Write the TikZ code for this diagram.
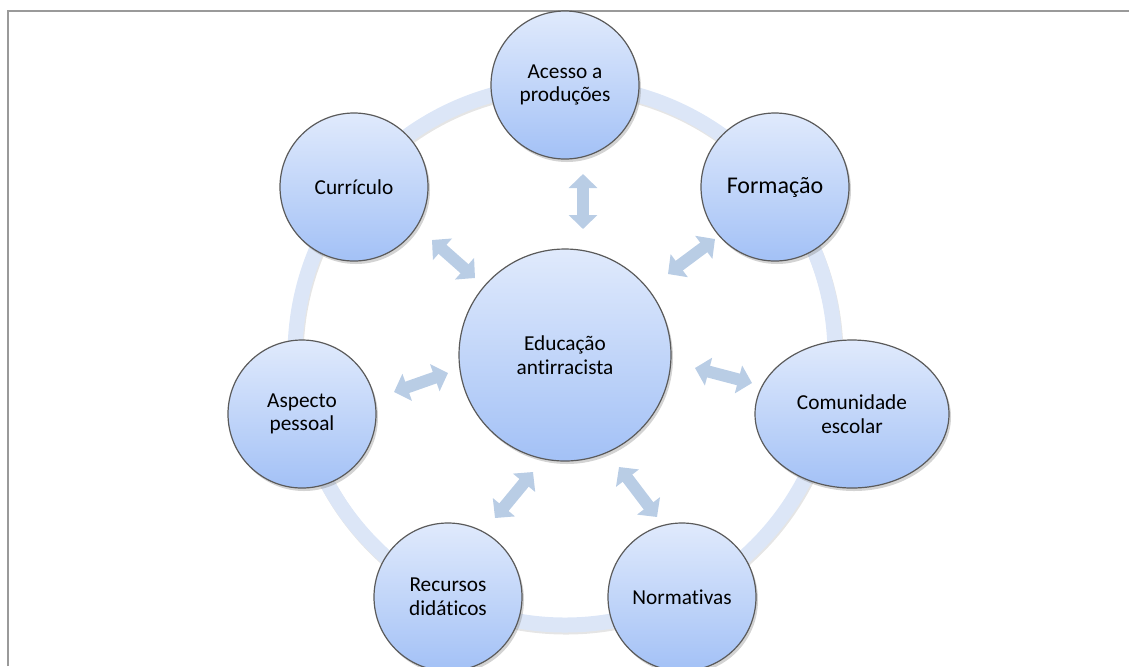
\documentclass[tikz,border=0pt]{standalone}
\usepackage{fontspec}
\setmainfont[RawFeature={-liga;-clig;-dlig}]{Carlito}
\usetikzlibrary{shapes.geometric,shadows,arrows.meta}

\definecolor{ringblue}{HTML}{DCE6F7}
\definecolor{arrowblue}{HTML}{B9CDE5}
\definecolor{circtop}{HTML}{E0EAFC}
\definecolor{circbot}{HTML}{A3C1F6}
\definecolor{rimgray}{HTML}{5A5A5A}
\definecolor{framegray}{HTML}{9A9A9A}

\tikzset{
  topic/.style={circle, draw=rimgray, line width=0.6pt, top color=circtop,
    bottom color=circbot, minimum size=74pt, inner sep=0pt, align=center,
    font=\fontsize{10.65pt}{11.8pt}\selectfont,
    drop shadow={shadow xshift=1pt, shadow yshift=-1.5pt, opacity=0.35}},
  widetopic/.style={topic, ellipse, minimum width=97pt, minimum height=74pt},
  hub/.style={topic, minimum size=106pt},
  blockarrow/.style={line width=6pt, draw=arrowblue,
    {Triangle[width=14pt,length=7pt]}-{Triangle[width=14pt,length=7pt]}}
}

\begin{document}
\begin{tikzpicture}[x=0.5pt,y=-0.5pt]
    \useasboundingbox (0,0) rectangle (1129,666);
    \draw[framegray, line width=1pt] (8,666) -- (8,10.5) -- (1129,10.5);

    % ring
    \coordinate (c0) at (565,355);
    \draw[black, opacity=0.1, line width=7.5pt] ([shift={(1,2)}]c0) circle[radius=270];
    \draw[ringblue, line width=7.5pt] (c0) circle[radius=270];

    % arrow ends
    \coordinate (a1) at (583,229);  \coordinate (b1) at (583,174);
    \coordinate (a2) at (668,274);  \coordinate (b2) at (715,239);
    \coordinate (a3) at (695,368);  \coordinate (b3) at (752,383);
    \coordinate (a4) at (619,467);  \coordinate (b4) at (657,517);
    \coordinate (a5) at (533,472);  \coordinate (b5) at (495,518);
    \coordinate (a6) at (448,373);  \coordinate (b6) at (394,392);
    \coordinate (a7) at (475,278);  \coordinate (b7) at (432,240);
    \foreach \i in {1,...,7}
        \draw[blockarrow] (a\i) -- (b\i);

    \node[hub] (edu) at (c0) {Educação\\antirracista};
    \node[topic] (acesso) at (565,85) {Acesso a\\produções};
    \node[topic, font=\fontsize{12pt}{13pt}\selectfont] (formacao) at (775,187) {Formação};
    \node[widetopic] (comunidade) at (852,414) {Comunidade\\escolar};
    \node[topic] (normativas) at (682,597) {Normativas};
    \node[topic] (recursos) at (448,597) {Recursos\\didáticos};
    \node[topic] (aspecto) at (302,414) {Aspecto\\pessoal};
    \node[topic] (curriculo) at (354,187) {Currículo};
\end{tikzpicture}
\end{document}
